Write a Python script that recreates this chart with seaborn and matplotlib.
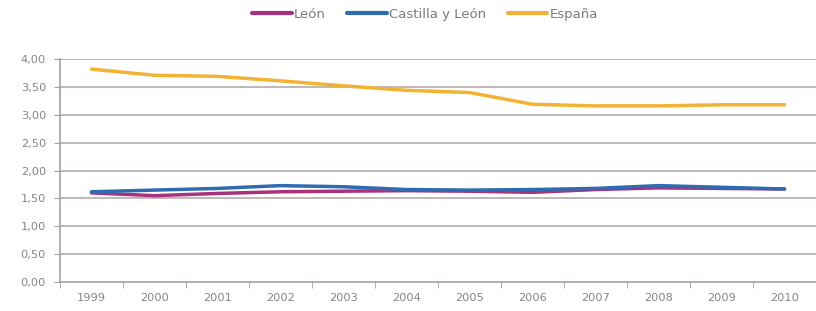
import matplotlib
matplotlib.use('Agg')
import matplotlib.pyplot as plt
import seaborn as sns
import pandas as pd
import numpy as np

years = ['1999', '2000', '2001', '2002', '2003', '2004', '2005', '2006', '2007', '2008', '2009', '2010']
leon = [1.60, 1.55, 1.59, 1.62, 1.63, 1.64, 1.63, 1.61, 1.66, 1.69, 1.68, 1.67]
castilla = [1.62, 1.65, 1.68, 1.73, 1.71, 1.66, 1.65, 1.66, 1.68, 1.73, 1.70, 1.67]
espana = [3.82, 3.71, 3.69, 3.61, 3.52, 3.44, 3.40, 3.19, 3.16, 3.16, 3.18, 3.18]
series = ['León', 'Castilla y León', 'España']
colors = ['#a8327e', '#2e6bb0', '#f2b233']

df = pd.DataFrame({
    'year': years * 3,
    'pos': list(range(len(years))) * 3,
    'value': leon + castilla + espana,
    'serie': [series[0]] * 12 + [series[1]] * 12 + [series[2]] * 12,
})

sns.set_style('white')
plt.rcParams['font.family'] = ['DejaVu Sans']

fig = plt.figure(figsize=(8.16, 3.11), dpi=100)
ax = fig.add_axes([0.0735, 0.093, 0.9265, 0.717])

# grid first so lines sit on top
for v in np.arange(0.5, 4.01, 0.5):
    ax.axhline(v, color='#c0b8b8', lw=1.4, zorder=1)

sns.lineplot(data=df, x='pos', y='value', hue='serie', hue_order=series,
             palette=colors, lw=2.5, ax=ax, zorder=3)

ax.set_xlim(-0.5, 11.43)
ax.set_ylim(0, 4.0)
ax.set_yticks(np.arange(0, 4.01, 0.5))
ax.set_yticklabels([f'{v:.2f}'.replace('.', ',') for v in np.arange(0, 4.01, 0.5)])
ax.set_xticks(range(len(years)))
ax.set_xticklabels(years)
ax.set_xticks(np.arange(-0.5, 11.6, 1), minor=True)
ax.tick_params(axis='x', which='major', length=0, pad=8, labelsize=8.2, labelcolor='#858585')
ax.tick_params(axis='x', which='minor', length=4, color='#a89f9f', direction='out', bottom=True)
ax.tick_params(axis='y', length=4, color='#a89f9f', direction='out', left=True, labelsize=8.2,
               labelcolor='#858585', pad=6)
ax.set_xlabel('')
ax.set_ylabel('')

for s in ['top', 'right']:
    ax.spines[s].set_visible(False)
for s in ['left', 'bottom']:
    ax.spines[s].set_color('#a89f9f')
    ax.spines[s].set_linewidth(1.2)

leg = ax.legend(loc='center', bbox_to_anchor=(0.483, 1.2), ncol=3, frameon=False,
                fontsize=9.5, handlelength=3.0, handletextpad=0.2, columnspacing=1.6)
for t in leg.get_texts():
    t.set_color('#7a7a7a')
for h in leg.get_lines():
    h.set_linewidth(3)

fig.savefig('out.png', dpi=100)
plt.close()
